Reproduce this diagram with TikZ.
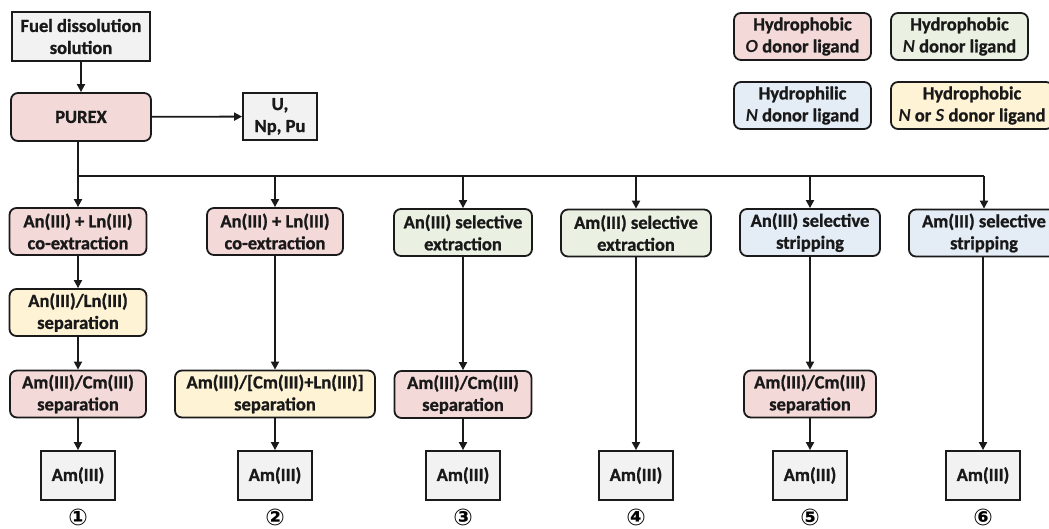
\documentclass[tikz,border=0pt]{standalone}
\usepackage{fontspec}
\setmainfont{Carlito}[BoldFeatures={FakeBold=1}]
\newfontfamily\numfont{DejaVu Sans}
\usetikzlibrary{arrows.meta}

\definecolor{pinkfill}{HTML}{F4D9D9}
\definecolor{greenfill}{HTML}{EBF1E2}
\definecolor{bluefill}{HTML}{E4ECF6}
\definecolor{yellowfill}{HTML}{FFF3D6}
\definecolor{grayfill}{HTML}{F2F2F2}
\definecolor{edge}{HTML}{1A1A1A}

\begin{document}
\begin{tikzpicture}[x=1pt,y=-1pt,
  box/.style={draw=edge, line width=1.8pt, align=center, inner sep=0pt,
    font=\bfseries\fontsize{18.5}{22}\selectfont, text=black!90},
  sqbox/.style={box, fill=grayfill},
  rbox/.style={box, rounded corners=7pt},
  pinkbox/.style={rbox, fill=pinkfill},
  greenbox/.style={rbox, fill=greenfill},
  bluebox/.style={rbox, fill=bluefill},
  yellowbox/.style={rbox, fill=yellowfill},
  arr/.style={-{Triangle[length=8pt,width=8pt]}, line width=1.8pt, draw=edge},
  wire/.style={line width=1.8pt, draw=edge},
  num/.style={inner sep=0pt, font=\numfont\bfseries\fontsize{23}{23}\selectfont}]
\useasboundingbox (0,0) rectangle (1049,529);

% feed and PUREX
\node[sqbox, minimum width=138pt, minimum height=49pt] (feed) at (81,36.5) {Fuel dissolution\\solution};
\node[pinkbox, minimum width=140pt, minimum height=48pt] (purex) at (81,117) {PUREX};
\node[sqbox, minimum width=74pt, minimum height=47pt] (unp) at (280,116.5) {U,\\Np, Pu};
\draw[arr] (feed) -- (purex);
\draw[arr] (purex) -- (unp);

% legend
\node[pinkbox, minimum width=137pt, minimum height=47pt] (lgA) at (802.5,36.5) {Hydrophobic\\\textit{O} donor ligand};
\node[greenbox, minimum width=137pt, minimum height=47pt] (lgB) at (959.5,36.5) {Hydrophobic\\\textit{N} donor ligand};
\node[bluebox, minimum width=137pt, minimum height=47pt] (lgC) at (802.5,105.5) {Hydrophilic\\\textit{N} donor ligand};
\node[yellowbox, minimum width=162pt, minimum height=47pt] (lgD) at (972,105.5) {Hydrophobic\\\textit{N} or \textit{S} donor ligand};

% first stage of each route
\node[pinkbox, minimum width=137pt, minimum height=47pt] (a1) at (78,231.5) {An(III) + Ln(III)\\co-extraction};
\node[pinkbox, minimum width=136pt, minimum height=47pt] (b1) at (275,231.5) {An(III) + Ln(III)\\co-extraction};
\node[greenbox, minimum width=138pt, minimum height=47pt] (c1) at (463,232.5) {An(III) selective\\extraction};
\node[greenbox, minimum width=150pt, minimum height=47pt] (d1) at (636,233) {Am(III) selective\\extraction};
\node[bluebox, minimum width=140pt, minimum height=47pt] (e1) at (810,232.5) {An(III) selective\\stripping};
\node[bluebox, minimum width=150pt, minimum height=47pt] (f1) at (984,233) {Am(III) selective\\stripping};

% distribution bus from PUREX
\coordinate (bus) at (78,176);
\draw[wire] (purex.south -| bus) -- (bus) -- (bus -| f1.north);
\foreach \n in {a1,b1,c1,d1,e1,f1}
  \draw[arr] (bus -| \n.north) -- (\n.north);

% intermediate separations
\node[yellowbox, minimum width=137pt, minimum height=47pt] (a2) at (78,312.5) {An(III)/Ln(III)\\separation};
\node[pinkbox, minimum width=136pt, minimum height=47pt] (a3) at (78,394) {Am(III)/Cm(III)\\separation};
\node[yellowbox, minimum width=200pt, minimum height=47pt] (b3) at (275,394) {Am(III)/[Cm(III)+Ln(III)]\\separation};
\node[pinkbox, minimum width=137pt, minimum height=47pt] (c3) at (463,394.5) {Am(III)/Cm(III)\\separation};
\node[pinkbox, minimum width=132pt, minimum height=47pt] (e3) at (810,394) {Am(III)/Cm(III)\\separation};

% products
\foreach \n/\x in {p1/78,p2/275,p3/463,p4/636,p5/810,p6/983}
  \node[sqbox, minimum width=74pt, minimum height=49pt] (\n) at (\x,475.5) {Am(III)};

% route labels
\foreach \n/\s in {p1/①,p2/②,p3/③,p4/④,p5/⑤,p6/⑥}
  \node[num] (\n l) at (\n.center |- 0,517) {\s};

% route connectors
\draw[arr] (a1) -- (a2);
\draw[arr] (a2) -- (a3);
\draw[arr] (a3) -- (p1);
\draw[arr] (b1) -- (b1 |- b3.north);
\draw[arr] (b3) -- (p2);
\draw[arr] (c1) -- (c3);
\draw[arr] (c3) -- (p3);
\draw[arr] (d1) -- (p4);
\draw[arr] (e1) -- (e3);
\draw[arr] (e3) -- (p5);
\draw[arr] (f1.south -| p6) -- (p6);
\end{tikzpicture}
\end{document}
